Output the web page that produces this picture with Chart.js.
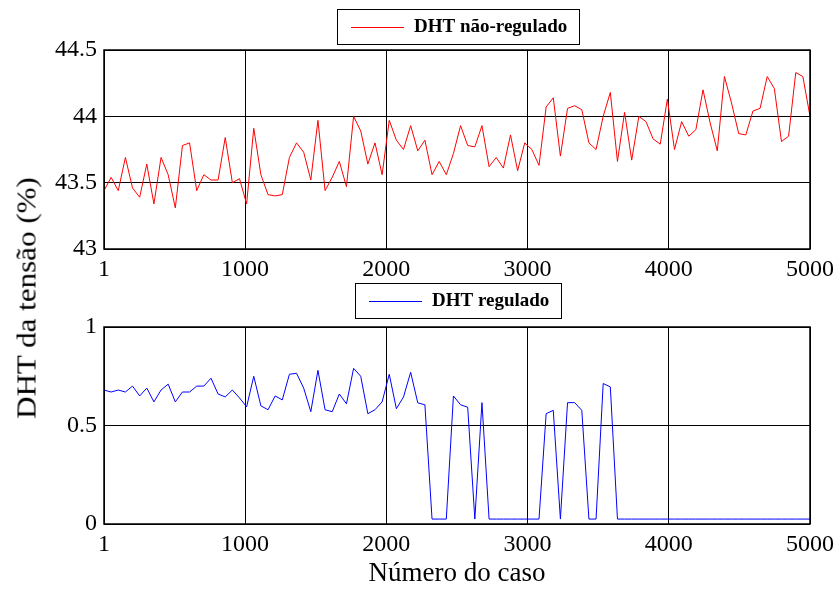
<!DOCTYPE html>
<html>
<head>
<meta charset="utf-8">
<script src="https://cdn.jsdelivr.net/npm/chart.js@4"></script>
<style>
  body { margin: 0; background: #fff; }
  #wrap { position: relative; width: 840px; height: 590px; }
  canvas { position: absolute; left: 0; }
  #topChart { top: 0; }
  #bottomChart { top: 270px; }
  #yTitle {
    position: absolute; left: 27px; top: 298px;
    font-family: "Liberation Serif", serif; font-size: 27px; color: #000;
    white-space: nowrap;
    transform: translate(-50%, -50%) rotate(-90deg) scaleX(1.15);
  }
</style>
</head>
<body>
<div id="wrap">
  <canvas id="topChart" width="840" height="290"></canvas>
  <canvas id="bottomChart" width="840" height="320"></canvas>
  <div id="yTitle">DHT da tensão (%)</div>
</div>
<script>
// ticks do eixo x
const xTicks = [1, 1000, 2000, 3000, 4000, 5000];

// DHT não-regulado (%), 100 casos
const dhtNaoRegulado = [
  43.44, 43.54, 43.44, 43.69, 43.46, 43.39, 43.64, 43.34, 43.69, 43.56,
  43.31, 43.78, 43.80, 43.44, 43.56, 43.52, 43.52, 43.84, 43.50, 43.53,
  43.34, 43.91, 43.56, 43.41, 43.40, 43.41, 43.69, 43.80, 43.73, 43.52,
  43.97, 43.44, 43.54, 43.66, 43.47, 44.00, 43.89, 43.64, 43.80, 43.56,
  43.97, 43.82, 43.75, 43.93, 43.74, 43.82, 43.56, 43.66, 43.56, 43.72,
  43.93, 43.78, 43.77, 43.93, 43.62, 43.69, 43.61, 43.86, 43.59, 43.80,
  43.75, 43.63, 44.07, 44.14, 43.70, 44.06, 44.08, 44.05, 43.80, 43.75,
  44.00, 44.18, 43.66, 44.03, 43.67, 44.00, 43.96, 43.83, 43.79, 44.13,
  43.75, 43.96, 43.85, 43.90, 44.20, 43.95, 43.74, 44.30, 44.10, 43.87,
  43.86, 44.04, 44.06, 44.30, 44.21, 43.81, 43.85, 44.33, 44.30, 44.00
];

// DHT regulado (%), 100 casos
const dhtRegulado = [
  0.68, 0.67, 0.68, 0.67, 0.70, 0.65, 0.69, 0.62, 0.68, 0.71,
  0.62, 0.67, 0.67, 0.70, 0.70, 0.74, 0.66, 0.645, 0.68, 0.64,
  0.595, 0.75, 0.60, 0.58, 0.65, 0.63, 0.76, 0.765, 0.69, 0.57,
  0.78, 0.58, 0.57, 0.66, 0.61, 0.79, 0.75, 0.56, 0.58, 0.62,
  0.76, 0.585, 0.645, 0.77, 0.615, 0.605, 0.025, 0.025, 0.025, 0.65,
  0.605, 0.593, 0.025, 0.616, 0.025, 0.025, 0.025, 0.025, 0.025, 0.025,
  0.025, 0.025, 0.56, 0.577, 0.025, 0.616, 0.616, 0.577, 0.025, 0.025,
  0.713, 0.696, 0.025, 0.025, 0.025, 0.025, 0.025, 0.025, 0.025, 0.025,
  0.025, 0.025, 0.025, 0.025, 0.025, 0.025, 0.025, 0.025, 0.025, 0.025,
  0.025, 0.025, 0.025, 0.025, 0.025, 0.025, 0.025, 0.025, 0.025, 0.025
];

// casos igualmente espaçados de 1 a 5000
const casos = dhtNaoRegulado.map((_, i) => 1 + (i * 4999) / 99);

Chart.defaults.font.family = '"Liberation Serif", "Times New Roman", serif';
Chart.defaults.color = "#000";

// caixa da legenda no estilo do MATLAB
const legendBox = {
  id: "legendBox",
  afterDraw(chart, args, opts) {
    const { ctx, chartArea } = chart;
    const ds = chart.data.datasets[0];
    ctx.save();
    ctx.font = 'bold 19px "Liberation Serif", serif';
    const textW = ctx.measureText(ds.label).width;
    const w = Math.round(14 + 53 + 10 + textW + 12);
    const h = 35;
    const x = Math.round((chartArea.left + chartArea.right) / 2 + 1 - w / 2);
    const y = Math.round(chartArea.top - opts.gap - h);
    ctx.fillStyle = "#fff";
    ctx.fillRect(x, y, w, h);
    ctx.strokeStyle = "#000";
    ctx.lineWidth = 1;
    ctx.strokeRect(x + 0.5, y + 0.5, w, h);
    // amostra da linha
    const ly = y + Math.round(h / 2) + 0.5;
    ctx.strokeStyle = opts.color;
    ctx.lineWidth = 1.2;
    ctx.beginPath();
    ctx.moveTo(x + 14, ly);
    ctx.lineTo(x + 67, ly);
    ctx.stroke();
    ctx.fillStyle = "#000";
    ctx.textBaseline = "middle";
    ctx.fillText(ds.label, x + 77, y + h / 2 + 1);
    ctx.restore();
  },
};

// moldura do gráfico
const axesBox = {
  id: "axesBox",
  afterDraw(chart) {
    const { ctx, chartArea } = chart;
    ctx.save();
    ctx.strokeStyle = "#000";
    ctx.lineWidth = 1.5;
    ctx.strokeRect(chartArea.left, chartArea.top, chartArea.right - chartArea.left, chartArea.bottom - chartArea.top);
    ctx.restore();
  },
};

function makeChart(id, label, values, color, yMin, yMax, pad, xHeight, gap, showTitle) {
  const ctx = document.getElementById(id).getContext("2d");
  return new Chart(ctx, {
    type: "line",
    data: {
      datasets: [
        {
          label: label,
          data: casos.map((c, i) => ({ x: c, y: values[i] })),
          borderColor: color,
          borderWidth: 1,
          pointRadius: 0,
          tension: 0,
          fill: false,
        },
      ],
    },
    options: {
      responsive: false,
      animation: false,
      layout: { padding: { top: pad, right: 29, bottom: 0, left: 0 } },
      plugins: {
        legend: { display: false },
        tooltip: { enabled: false },
        legendBox: { gap: gap, color: color },
      },
      scales: {
        x: {
          type: "linear",
          min: 1,
          max: 5000,
          afterBuildTicks: (scale) => {
            scale.ticks = xTicks.map((v) => ({ value: v }));
          },
          afterFit: (scale) => {
            scale.height = xHeight;
          },
          ticks: {
            font: { size: 24 },
            padding: 6,
            maxRotation: 0,
            callback: (v) => String(v),
          },
          grid: { color: "#000", lineWidth: 1, drawTicks: false },
          border: { display: false },
          title: {
            display: showTitle,
            text: "Número do caso",
            font: { size: 27 },
            padding: { top: 0, bottom: 0 },
          },
        },
        y: {
          min: yMin,
          max: yMax,
          afterFit: (scale) => {
            scale.width = 104;
          },
          ticks: {
            stepSize: 0.5,
            font: { size: 24 },
            padding: 7,
            callback: (v) => String(v),
          },
          grid: { color: "#000", lineWidth: 1, drawTicks: false },
          border: { display: false },
        },
      },
    },
    plugins: [axesBox, legendBox],
  });
}

makeChart("topChart", "DHT não-regulado", dhtNaoRegulado, "#ff0000", 43, 44.5, 50, 41, 6, false);
makeChart("bottomChart", "DHT regulado", dhtRegulado, "#0000ff", 0, 1, 57, 66, 9, true);
</script>
</body>
</html>
